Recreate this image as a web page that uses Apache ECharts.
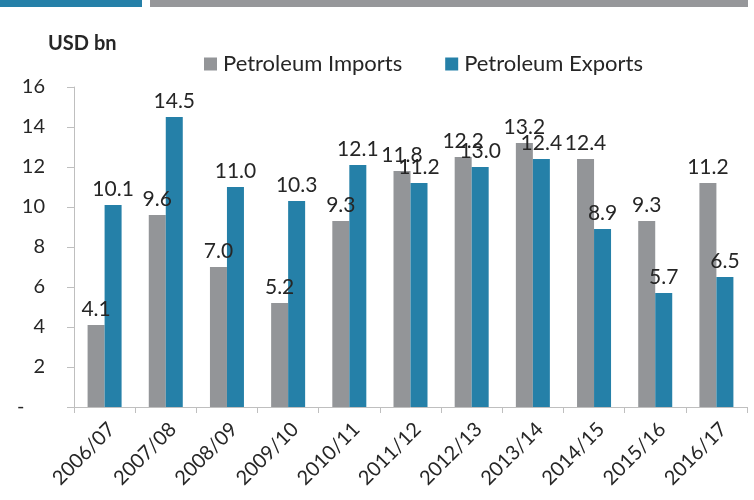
<!DOCTYPE html>
<html>
<head>
<meta charset="utf-8">
<script src="https://cdn.jsdelivr.net/npm/echarts@6/dist/echarts.min.js"></script>
<style>
  html, body { margin: 0; padding: 0; background: #fff; }
  #chart { width: 754px; height: 500px; }
</style>
</head>
<body>
<div id="chart"></div>
<script>
const years = ['2006/07', '2007/08', '2008/09', '2009/10', '2010/11', '2011/12',
  '2012/13', '2013/14', '2014/15', '2015/16', '2016/17']
// bar heights
const imports = [4.1, 9.6, 7.0, 5.2, 9.3, 11.8, 12.5, 13.2, 12.4, 9.3, 11.2]
const exports = [10.1, 14.5, 11.0, 10.3, 12.1, 11.2, 12.0, 12.4, 8.9, 5.7, 6.5]
// labels printed above the bars
const importLabels = ['4.1', '9.6', '7.0', '5.2', '9.3', '11.8', '12.2', '13.2', '12.4', '9.3', '11.2']
const exportLabels = ['10.1', '14.5', '11.0', '10.3', '12.1', '11.2', '13.0', '12.4', '8.9', '5.7', '6.5']
const yTicks = [0, 2, 4, 6, 8, 10, 12, 14, 16]

const font = 'Lato'
const textColor = '#262626'
const chart = echarts.init(document.getElementById('chart'))

chart.setOption({
  animation: false,
  textStyle: { fontFamily: font },
  graphic: [
    // header strips
    { type: 'rect', left: 0, top: 0, shape: { width: 142, height: 7 }, style: { fill: '#2580a8' } },
    { type: 'rect', left: 150, top: 0, shape: { width: 598, height: 7 }, style: { fill: '#96979a' } },
    { type: 'text', left: 48, top: 34, style: { text: 'USD bn', fontFamily: font, fontSize: 20, fontWeight: 'bold', fill: textColor } }
  ],
  legend: {
    left: 199,
    top: 48,
    itemWidth: 13,
    itemHeight: 13,
    itemGap: 43,
    icon: 'rect',
    textStyle: { fontFamily: font, fontSize: 22, color: textColor, padding: [0, 0, 0, 1] },
    data: ['Petroleum Imports', 'Petroleum Exports']
  },
  grid: { left: 74, right: 7, top: 87, bottom: 93, containLabel: false },
  xAxis: {
    type: 'category',
    data: years,
    axisLine: { lineStyle: { color: '#bfbfbf', width: 1 } },
    axisTick: { show: true, length: 6, lineStyle: { color: '#bfbfbf' } },
    axisLabel: {
      rotate: 45, fontSize: 20, color: textColor, margin: 12, fontFamily: font,
      verticalAlign: 'top'
    }
  },
  yAxis: {
    type: 'value',
    min: 0,
    max: 16,
    interval: 2,
    splitLine: { show: false },
    axisLine: { show: true, lineStyle: { color: '#bfbfbf', width: 1 } },
    axisTick: { show: true, length: 7, lineStyle: { color: '#bfbfbf' } },
    axisLabel: {
      fontSize: 20,
      color: textColor,
      margin: 29,
      fontFamily: font,
      formatter: v => (yTicks.indexOf(v) === 0 ? '-    ' : String(v))
    }
  },
  series: [
    {
      name: 'Petroleum Imports',
      type: 'bar',
      data: imports,
      barWidth: 17,
      barGap: '0%',
      itemStyle: { color: '#939598' },
      label: {
        show: true,
        position: 'top',
        distance: 5,
        fontSize: 21,
        color: textColor,
        fontFamily: font,
        formatter: p => importLabels[p.dataIndex]
      }
    },
    {
      name: 'Petroleum Exports',
      type: 'bar',
      data: exports,
      barWidth: 17,
      itemStyle: { color: '#2580a8' },
      label: {
        show: true,
        position: 'top',
        distance: 5,
        fontSize: 21,
        color: textColor,
        fontFamily: font,
        formatter: p => exportLabels[p.dataIndex]
      }
    }
  ]
})
</script>
</body>
</html>
